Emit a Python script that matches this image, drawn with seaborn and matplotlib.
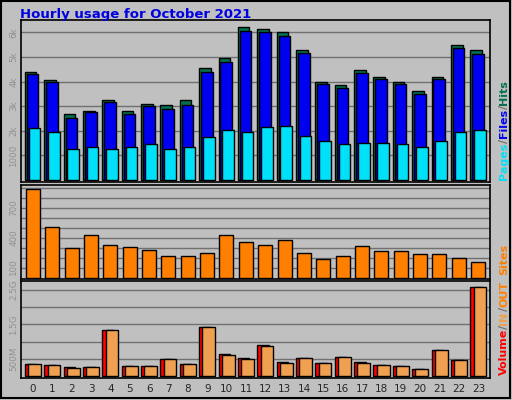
import numpy as np
import pandas as pd
import seaborn as sns
import matplotlib.pyplot as plt
from matplotlib.patches import Rectangle

sns.set_theme(style='white')
plt.rcParams['font.family'] = ['DejaVu Sans']

hours = list(range(24))
hits = [4400, 4050, 2700, 2800, 3250, 2800, 3070, 3030, 3250, 4550, 4950, 6200,
        6150, 6000, 5300, 4000, 3850, 4450, 4200, 4000, 3600, 4200, 5500, 5300]
files = [4300, 4000, 2500, 2750, 3150, 2700, 3000, 2900, 3050, 4400, 4800, 6050,
         6000, 5850, 5150, 3900, 3750, 4350, 4100, 3900, 3500, 4100, 5350, 5100]
pages = [2100, 1950, 1250, 1350, 1250, 1350, 1450, 1250, 1350, 1750, 2050, 1950,
         2150, 2200, 1800, 1600, 1450, 1500, 1500, 1450, 1350, 1600, 1950, 2050]
sites = [890, 510, 300, 430, 330, 310, 280, 220, 220, 250, 430, 360,
         330, 380, 250, 190, 220, 320, 270, 270, 240, 240, 200, 160]
vol_in = [0.35, 0.32, 0.26, 0.25, 1.34, 0.29, 0.29, 0.49, 0.35, 1.42, 0.64, 0.52,
          0.90, 0.40, 0.52, 0.38, 0.55, 0.40, 0.32, 0.29, 0.20, 0.76, 0.47, 2.60]
vol_out = [0.35, 0.32, 0.23, 0.25, 1.34, 0.29, 0.29, 0.49, 0.35, 1.42, 0.60, 0.49,
           0.88, 0.38, 0.52, 0.38, 0.55, 0.38, 0.32, 0.29, 0.20, 0.74, 0.47, 2.60]

df = pd.DataFrame({'hour': hours, 'hits': hits, 'files': files, 'pages': pages,
                   'sites': sites, 'vin': vol_in, 'vout': vol_out})
x = df['hour'].to_numpy()

bg = '#C0C0C0'
fig = plt.figure(figsize=(5.12, 4.0), dpi=100, facecolor=bg)
fig.patches.append(Rectangle((0.002, 0.004), 0.994, 0.993, transform=fig.transFigure,
                             fill=False, ec='black', lw=1.5))
fig.text(0.04, 0.963, 'Hourly usage for October 2021', color='#0000E0',
         fontsize=9.5, fontweight='bold', va='center')

L, W = 21 / 512, 469 / 512
def panel(top, bot):
    return fig.add_axes([L, 1 - bot / 400, W, (bot - top) / 400], facecolor=bg)

ax1 = panel(20, 182)
ax2 = panel(185, 279)
ax3 = panel(281, 378)

kw = dict(edgecolor='black', linewidth=1, align='edge', zorder=3)
ax1.bar(x - 0.42, df['hits'], width=0.6, color='#007050', **kw)
ax1.bar(x - 0.32, df['files'], width=0.6, color='#0000F0', **kw)
ax1.bar(x - 0.22, df['pages'], width=0.6, color='#00E0F8', **kw)
ax1.set_ylim(-80, 6500)
ax1.set_yticks([1000, 2000, 3000, 4000, 5000, 6000])
ax1.set_yticklabels(['1000', '2k', '3k', '4k', '5k', '6k'])

ax2.bar(x - 0.37, df['sites'], width=0.72, color='#FF8000', **kw)
ax2.set_ylim(-10, 930)
ax2.set_yticks(range(100, 901, 100))
ax2.set_yticklabels(['100', '', '', '400', '', '', '700', '', ''])

ax3.bar(x - 0.42, df['vin'], width=0.6, color='#FF0000', **kw)
ax3.bar(x - 0.25, df['vout'], width=0.66, color='#EFA050', **kw)
ax3.set_ylim(-0.06, 2.76)
ax3.set_yticks([0.5, 1.0, 1.5, 2.0, 2.5])
ax3.set_yticklabels(['500M', '', '1.5G', '', '2.5G'])

for ax in (ax1, ax2, ax3):
    ax.set_xlim(-0.62, 23.6)
    ax.grid(axis='y', color='#707070', lw=1, zorder=0)
    ax.tick_params(axis='y', labelrotation=90, labelsize=6.3, labelcolor='#909090',
                   length=0, pad=2)
    for lab in ax.get_yticklabels():
        lab.set_va('center')
    for s in ax.spines.values():
        s.set_color('black')
        s.set_linewidth(1.2)
    ax.set_xticks([])
ax3.set_xticks(hours)
ax3.set_xticklabels([str(h) for h in hours], fontsize=7.5)
ax3.tick_params(axis='x', length=0, pad=4)

def side(y, parts):
    yy = y
    for t, c in parts:
        txt = fig.text(0.985, yy, t, color=c, fontsize=8, fontweight='bold',
                       rotation=90, ha='center', va='bottom')
        fig.canvas.draw()
        bb = txt.get_window_extent()
        yy += bb.height / fig.bbox.height

side(1 - 180 / 400, [('Pages', '#00E0F8'), ('/', '#707070'), ('Files', '#0000F0'),
                     ('/', '#707070'), ('Hits', '#007050')])
side(1 - 275 / 400, [('Sites', '#FF8000')])
side(1 - 375 / 400, [('Volume', '#FF0000'), ('/', '#707070'), ('IN', '#EFA050'),
                     ('/', '#707070'), ('OUT', '#FF8000')])

fig.savefig('out.png', dpi=100, facecolor=bg)
